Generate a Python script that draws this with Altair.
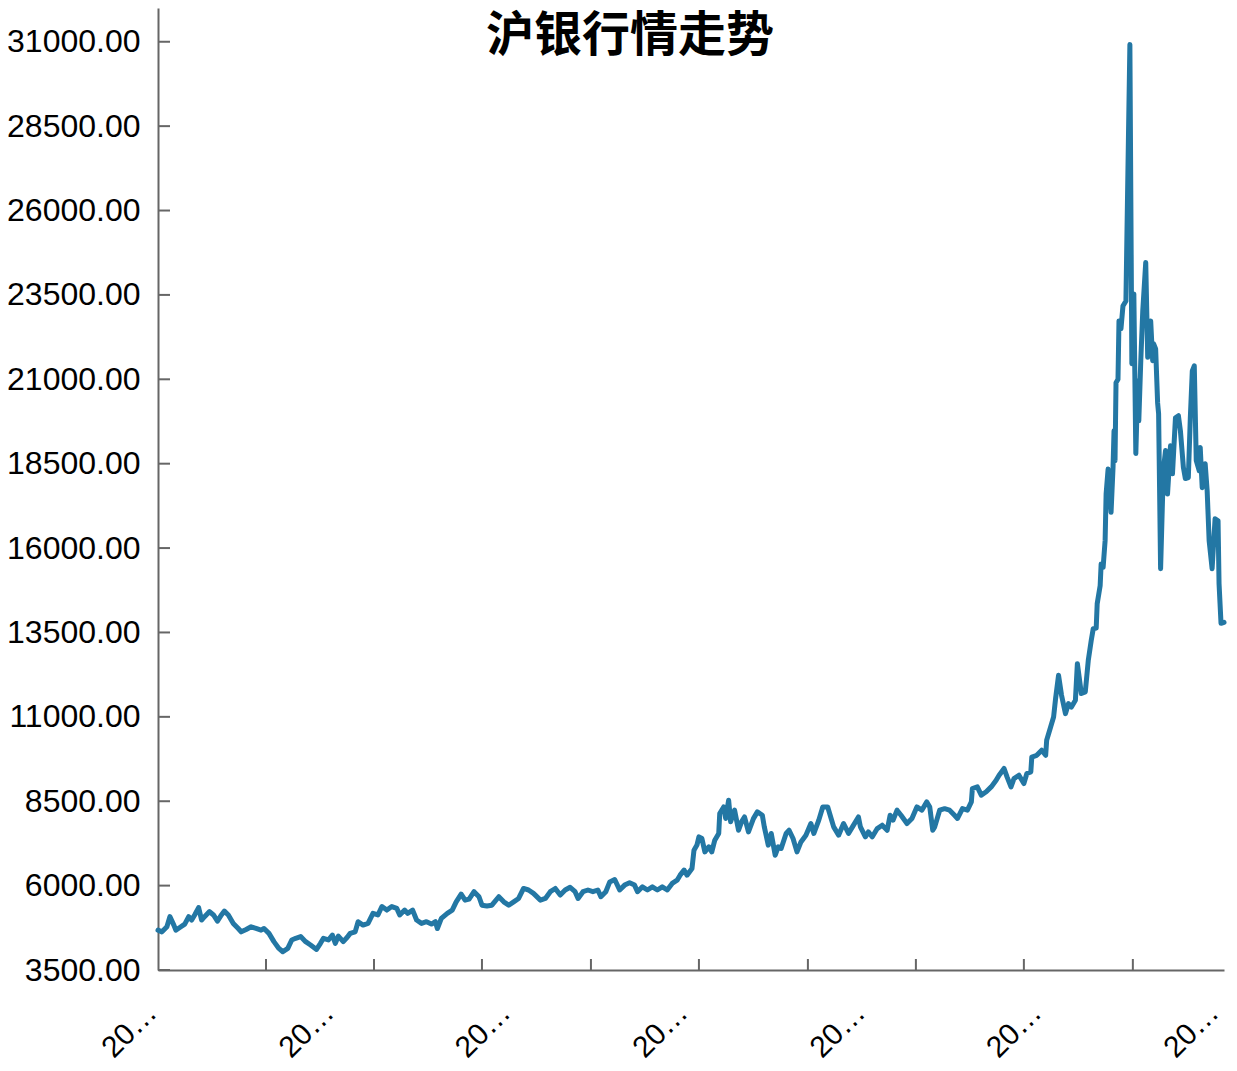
import json
import altair as alt
import pandas as pd

# 交易日序号 (position along the time axis) and closing price of 沪银
day = [
    0, 4, 9, 12, 16, 18, 22, 27, 31, 34, 37, 41, 44, 47, 52, 56, 60, 64, 67, 71,
    76, 81, 84, 89, 94, 99, 104, 107, 112, 117, 122, 126, 131, 135, 139, 144, 149, 154, 160, 164,
    167, 172, 176, 179, 182, 187, 191, 194, 199, 202, 207, 212, 217, 222, 226, 231, 236, 241, 244, 249,
    252, 257, 261, 266, 271, 276, 280, 282, 286, 292, 297, 301, 306, 310, 314, 319,
    324, 327, 332, 337, 344, 349, 354, 359, 364, 369, 374, 379, 386, 391, 396, 401, 406, 411, 416, 421,
    424, 429, 434, 439, 444, 447, 452, 456, 461, 466, 471, 476, 481, 484, 489, 494, 499, 504, 509, 514,
    519, 524, 527, 531, 534, 539, 541, 544, 546, 549, 552, 556, 559, 562, 566, 567, 571, 573, 576, 578,
    582, 586, 589, 592, 596, 601, 605, 610, 612, 616, 619, 623, 626, 629, 634, 637, 641, 645, 649, 654,
    659,
    662, 667, 671, 676, 679, 682, 687, 692, 697, 701, 707, 709, 714, 717, 721, 726, 731, 736, 739, 742,
    746, 750, 756, 761, 766, 771, 776, 779, 782, 784, 789, 794, 799, 804, 807, 812, 817, 821, 822, 827,
    831, 836, 841, 846, 849, 854, 857, 861, 864, 869, 874, 877, 881, 882, 887, 892, 896, 897, 901, 904,
    906, 909, 912, 916, 919, 922, 926, 928, 932, 936, 939, 942,
    944, 947, 948, 951, 952, 954, 956, 957, 959, 962, 964, 965, 966, 967, 969, 970, 972, 974, 977, 981,
    983, 985, 987, 989, 990, 992, 994, 997, 999, 1002, 1004, 1005, 1007, 1009, 1010, 1012, 1014, 1015, 1017, 1019,
    1022, 1024, 1027, 1030, 1032, 1035, 1037, 1040, 1042, 1044, 1046, 1048, 1051, 1052, 1054, 1057, 1059, 1061, 1064, 1067,
    1070, 1071, 1073, 1076,
]

price = [
    4680, 4630, 4780, 5080, 4830, 4680, 4760, 4860, 5080, 4980, 5130, 5350, 4980, 5080, 5230, 5130, 4950, 5130, 5245, 5130,
    4880, 4730, 4630, 4700, 4780, 4730, 4680, 4730, 4585, 4340, 4140, 4040, 4140, 4390, 4440, 4490, 4340, 4240, 4110, 4290,
    4440, 4390, 4535, 4290, 4505, 4340, 4470, 4585, 4630, 4930, 4830, 4880, 5180, 5130, 5380, 5275, 5380, 5325, 5130, 5275,
    5180, 5275, 4980, 4880, 4930, 4860, 4930, 4730, 5030, 5180, 5275, 5520, 5750, 5570, 5600, 5820,
    5670, 5420, 5395, 5420, 5670, 5520, 5420, 5520, 5620, 5915, 5870, 5770, 5570, 5620, 5820, 5915, 5720, 5870, 5950, 5820,
    5620, 5820, 5870, 5820, 5870, 5670, 5820, 6110, 6180, 5870, 6015, 6085, 6015, 5820, 5965, 5870, 5965, 5870, 5965, 5870,
    6065, 6160, 6310, 6460, 6310, 6510, 7050, 7200, 7445, 7395, 7000, 7150, 7000, 7345, 7545, 8135, 8330, 7990, 8530, 7890,
    8235, 7640, 7890, 8035, 7590, 7985, 8185, 8085, 7740, 7200, 7545, 6900, 7150, 7100, 7545, 7640, 7395, 7000, 7295, 7495,
    7840,
    7545, 7940, 8330, 8330, 8035, 7740, 7495, 7840, 7545, 7740, 8035, 7740, 7445, 7590, 7445, 7690, 7790, 7640, 8085, 7940,
    8235, 8085, 7840, 7990, 8330, 8235, 8480, 8330, 7640, 7740, 8235, 8280, 8235, 8085, 7990, 8280, 8235, 8480, 8875, 8925,
    8680, 8780, 8925, 9120, 9270, 9470, 9220, 8925, 9170, 9270, 9025, 9320, 9370, 9810, 9860, 10010, 9860, 10305, 10700, 10995,
    11540, 12230, 11640, 11095, 11390, 11290, 11490, 12575, 11690, 11740, 12670, 13265,
    13610, 13630, 14350, 14890, 15530, 15430, 16220, 17600, 18340, 17060, 18390, 19475, 18590, 20900, 21000, 22730, 22500, 23170, 23320, 30915,
    21460, 23530, 18800, 20955, 19770, 21550, 23030, 24460, 21650, 22730, 21550, 22050, 21900, 20300, 19980, 15390, 17500, 18380, 18890, 17600,
    19030, 18200, 19860, 19920, 19475, 18390, 18060, 18090, 19860, 21250, 21400, 18590, 18290, 18980, 17790, 18500, 17700, 16220, 15390, 16870,
    16810, 14950, 13770, 13800,
]

y_ticks = [3500, 6000, 8500, 11000, 13500, 16000, 18500, 21000, 23500, 26000, 28500, 31000]
x_ticks = [109, 218, 327, 437, 546, 656, 765, 874, 984]
x_label_pos = [0, 179, 357, 536, 715, 893, 1072]
x_label_text = ["2022-01-04", "2022-08-29", "2023-04-27", "2023-12-22",
                "2024-08-22", "2025-04-24", "2025-12-29"]
title_text = "沪银行情走势"

W, H = 1066, 962
AXIS_GRAY = "#666666"
LINE_BLUE = "#2377a4"

df = pd.DataFrame({"day": day, "price": price})
yt = pd.DataFrame({"price": y_ticks})
xt = pd.DataFrame({"day": x_ticks})
tt = pd.DataFrame({"t": [title_text]})

xscale = alt.Scale(domain=[0, 1076], nice=False, zero=False)
yscale = alt.Scale(domain=[3500, 32000], nice=False, zero=False)

label_expr = json.dumps(x_label_text) + "[round(datum.index * 6)]"

line = alt.Chart(df).mark_line(
    color=LINE_BLUE, strokeWidth=5, strokeJoin="round", strokeCap="round"
).encode(
    x=alt.X("day:Q", scale=xscale, axis=alt.Axis(
        values=x_label_pos, labelExpr=label_expr, labelAngle=-45,
        labelAlign="right", labelBaseline="alphabetic", labelPadding=44,
        labelFontSize=30, labelFont="Liberation Sans", labelColor="#000000",
        labelLimit=70, labelOverlap=False, labelFlush=False,
        ticks=False, grid=False, domainColor=AXIS_GRAY, domainWidth=2, title=None)),
    y=alt.Y("price:Q", scale=yscale, axis=alt.Axis(
        values=y_ticks, format=".2f", labelFontSize=32, labelFont="Liberation Sans",
        labelColor="#000000", labelPadding=18, labelFlush=False, labelOverlap=False,
        ticks=False, grid=False, domainColor=AXIS_GRAY, domainWidth=2, title=None)),
)

ytick_rules = alt.Chart(yt).mark_rule(color=AXIS_GRAY, strokeWidth=2).encode(
    y=alt.Y("price:Q", scale=yscale),
    x=alt.value(0), x2=alt.value(12),
)

xtick_rules = alt.Chart(xt).mark_rule(color=AXIS_GRAY, strokeWidth=2).encode(
    x=alt.X("day:Q", scale=xscale),
    y=alt.value(H), y2=alt.value(H - 11),
)

title = alt.Chart(tt).mark_text(
    font="Noto Sans CJK SC", fontSize=48, fontWeight="bold", color="#000000",
    align="center", baseline="middle",
).encode(text="t:N", x=alt.value(472), y=alt.value(29))

chart = alt.layer(line, ytick_rules, xtick_rules, title).properties(
    width=W, height=H,
    padding={"left": 150, "top": 0, "right": 5, "bottom": 100},
    autosize=alt.AutoSizeParams(type="none"),
    background="#ffffff",
).configure_view(strokeWidth=0)

chart.save("out.html", embed_options={"renderer": "svg", "actions": False})
